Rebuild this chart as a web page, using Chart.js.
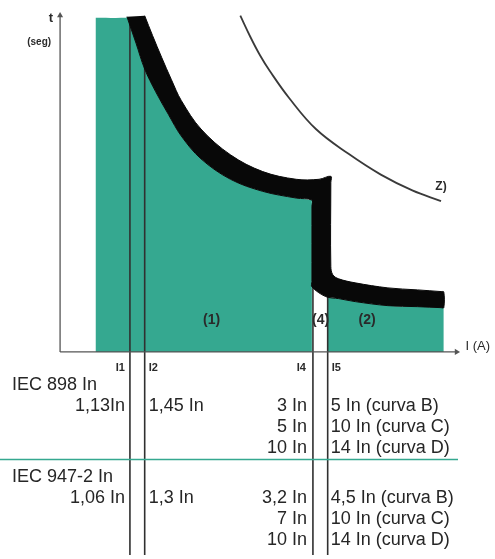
<!DOCTYPE html>
<html><head><meta charset="utf-8">
<script src="https://cdn.jsdelivr.net/npm/chart.js@4.4.1/dist/chart.umd.min.js"></script>
<style>html,body{margin:0;padding:0;background:#fff;}canvas{display:block;}</style>
</head><body>
<canvas id="c" width="495" height="559"></canvas>
<script>
// ---- data (schematic units: current on x, time on y) ----
const levelNames = ['I1', 'I2', 'I4', 'I5'];
const levelCurrents = [17.75, 21.5, 64.25, 68];
const levelTops = [99.7, 99, 48, 48];

// thermal zone start (left edge of the teal area)
const thermalStart = [[9, 99.7], [16.8, 99.7]];
// trip band, lower/left edge (thermal part)
const bandInner = [[17,100],[19.3,92.1],[21.5,84.4],[24.3,77.6],[27.5,70.9],[30.8,64.4],[35.8,57.6],[43.3,51.5],[51.5,47.9],[60,45.9],[64,45.3]];
// trip band, upper/right edge (thermal part)
const bandOuter = [[21.5,100.3],[23.5,94.4],[25.8,87.9],[28.3,81.2],[30.8,75],[35.8,66.5],[43.3,58.8],[51.5,53.8],[60,51.5],[65.8,51.5]];
// trip band, right edge of the step and top edge of magnetic part
const bandLowTop = [[68.8,52.4],[68.8,50.5],[68.8,25.5],[69.3,23],[70.8,21.8],[75,20.6],[83.3,19.1],[90.8,18.5],[96.8,18],[97.5,17.9]];
// trip band, magnetic part bottom edge and left edge of the step (right to left, bottom to top)
const bandLowBottom = [[97.5,13.2],[96.8,13.2],[90.8,13.5],[83.3,13.8],[75,15],[70.8,15.9],[67.5,16.5],[64,19.4],[64,21],[64,43.5]];
// magnetic zone (2) upper limit
const zone2 = [[68,16.4],[70.8,15.9],[75,15],[83.3,13.8],[90.8,13.5],[97.5,13.2]];
// curve Z
const curveZ = [[45.8,100.3],[48.3,94.1],[50.8,88.5],[53.3,83.8],[58.3,75.6],[65,66.5],[73.3,59.1],[81.5,52.9],[89.5,48.2],[96.8,45]];

const regionLabels = ['(1)', '(4)', '(2)'];
const regionLabelX = [38.5, 66.2, 78];
const regionLabelY = [9.4, 9.4, 9.4];

const standards = ['IEC 898 In', 'IEC 947-2 In'];
const i1Values = ['1,13In', '1,06 In'];
const i2Values = ['1,45 In', '1,3 In'];
const i4Values = [['3 In', '5 In', '10 In'], ['3,2 In', '7 In', '10 In']];
const i5Values = [['5 In (curva B)', '10 In (curva C)', '14 In (curva D)'], ['4,5 In (curva B)', '10 In (curva C)', '14 In (curva D)']];
const axisLabelY = ['t', '(seg)'];
const axisLabelX = 'I (A)';
const curveLabel = 'Z)';

// ---- helpers ----
const P = a => a.map(p => ({x: p[0], y: p[1]}));
const TEAL = '#35a890';
const INK = '#2a2a2a';

const teal1 = P(thermalStart.concat(bandInner));
const bandPoly = P(bandOuter.concat(bandLowTop, bandLowBottom, bandInner.slice().reverse()));

const datasets = [];
datasets.push({data: teal1, showLine: true, fill: 'origin', backgroundColor: TEAL, borderWidth: 0, pointRadius: 0, tension: 0.35, order: 5});
datasets.push({data: P(zone2), showLine: true, fill: 'origin', backgroundColor: TEAL, borderWidth: 0, pointRadius: 0, tension: 0.35, order: 5});
levelCurrents.forEach((c, i) => {
  datasets.push({data: [{x: c, y: levelTops[i]}, {x: c, y: -70}], showLine: true, fill: false, borderColor: '#303030', borderWidth: 1.6, pointRadius: 0, order: 4});
});
datasets.push({data: bandPoly, showLine: true, fill: 'shape', backgroundColor: '#080808', borderColor: '#080808', borderWidth: 1, pointRadius: 0, tension: 0.35, order: 2});
datasets.push({data: P(curveZ), showLine: true, fill: false, borderColor: '#3a3a3a', borderWidth: 1.8, tension: 0.4, pointRadius: 0, order: 1});
// axes with arrow heads
datasets.push({data: [{x: 0, y: 0}, {x: 0, y: 100.4}], showLine: true, fill: false, borderColor: '#555', borderWidth: 1.3,
  pointRadius: [0, 3.5], pointStyle: 'triangle', pointBackgroundColor: '#555', pointBorderColor: '#555', pointBorderWidth: 0, order: 0});
datasets.push({data: [{x: 0, y: 0}, {x: 100.75, y: 0}], showLine: true, fill: false, borderColor: '#555', borderWidth: 1.3,
  pointRadius: [0, 3.5], pointStyle: 'triangle', pointRotation: 90, pointBackgroundColor: '#555', pointBorderColor: '#555', pointBorderWidth: 0, order: 0});

const textPlugin = {
  id: 'texts',
  afterDatasetsDraw(chart) {
    const ctx = chart.ctx;
    const xs = chart.scales.x, ys = chart.scales.y;
    const X = v => xs.getPixelForValue(v), Y = v => ys.getPixelForValue(v);
    ctx.save();
    ctx.textBaseline = 'middle';
    ctx.fillStyle = INK;
    // axis labels
    ctx.font = 'bold 13px "Liberation Sans", Arial, sans-serif';
    ctx.textAlign = 'right';
    ctx.fillText(axisLabelY[0], X(0) - 7, Y(0) - 333);
    ctx.font = 'bold 10px "Liberation Sans", Arial, sans-serif';
    ctx.fillText(axisLabelY[1], X(0) - 9, Y(0) - 310);
    ctx.font = '13px "Liberation Sans", Arial, sans-serif';
    ctx.textAlign = 'left';
    ctx.fillText(axisLabelX, X(100.75) + 9, Y(0) - 5);
    // curve label
    const zEnd = curveZ[curveZ.length - 1];
    ctx.font = 'bold 12px "Liberation Sans", Arial, sans-serif';
    ctx.textAlign = 'center';
    ctx.fillText(curveLabel, X(zEnd[0]), Y(zEnd[1]) - 14);
    // region labels
    ctx.font = 'bold 14px "Liberation Sans", Arial, sans-serif';
    regionLabels.forEach((t, i) => ctx.fillText(t, X(regionLabelX[i]), Y(regionLabelY[i])));
    // level labels
    ctx.font = 'bold 11px "Liberation Sans", Arial, sans-serif';
    const lx = levelCurrents.map(X);
    const labY = Y(0) + 16;
    ctx.textAlign = 'right'; ctx.fillText(levelNames[0], lx[0] - 5, labY);
    ctx.textAlign = 'left'; ctx.fillText(levelNames[1], lx[1] + 4, labY);
    ctx.textAlign = 'right'; ctx.fillText(levelNames[2], lx[2] - 7, labY);
    ctx.textAlign = 'left'; ctx.fillText(levelNames[3], lx[3] + 4, labY);
    // table
    ctx.font = '18px "Liberation Sans", Arial, sans-serif';
    ctx.fillStyle = '#262626';
    const blockTop = [Y(0) + 33, Y(0) + 125];
    const rowGap = [21, 20.5, 20];
    standards.forEach((s, b) => {
      const top = blockTop[b];
      ctx.textAlign = 'left';
      ctx.fillText(s, 12, top);
      let y = top + 21.5;
      ctx.textAlign = 'right'; ctx.fillText(i1Values[b], lx[0] - 5, y);
      ctx.textAlign = 'left'; ctx.fillText(i2Values[b], lx[1] + 4, y);
      for (let r = 0; r < 3; r++) {
        ctx.textAlign = 'right'; ctx.fillText(i4Values[b][r], lx[2] - 6, y);
        ctx.textAlign = 'left'; ctx.fillText(i5Values[b][r], lx[3] + 3, y);
        y += rowGap[r];
      }
    });
    // separator rule
    ctx.strokeStyle = TEAL;
    ctx.lineWidth = 1.5;
    ctx.beginPath();
    ctx.moveTo(0, Y(0) + 107.5);
    ctx.lineTo(458, Y(0) + 107.5);
    ctx.stroke();
    ctx.restore();
  }
};

new Chart(document.getElementById('c'), {
  type: 'scatter',
  data: {datasets},
  options: {
    responsive: false,
    animation: false,
    layout: {padding: 0},
    plugins: {legend: {display: false}, tooltip: {enabled: false}},
    scales: {
      x: {type: 'linear', display: false, min: -14.25, max: 109.5},
      y: {type: 'linear', display: false, min: -60.6, max: 103.8}
    },
    elements: {line: {tension: 0}}
  },
  plugins: [textPlugin]
});
</script>
</body></html>
